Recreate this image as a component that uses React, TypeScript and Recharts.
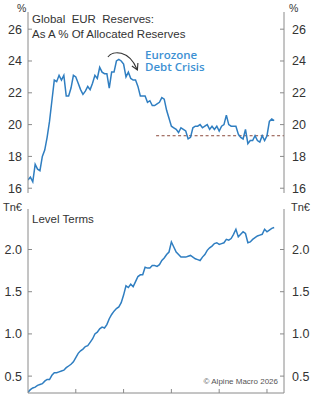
import React from 'react'
import { LineChart, Line, XAxis, YAxis, ReferenceLine, ReferenceDot } from 'recharts'

// quarterly observations, 1999Q1 onwards
const startYear = 1999

// EUR share of allocated reserves, %
const shareValues = [
  16.52, 16.7, 16.4, 17.5, 17.2, 17.1, 18.0, 18.4, 19.2, 20.2,
  21.5, 22.8, 22.7, 23.1, 22.8, 23.1, 21.8, 21.8, 22.3, 23.1,
  23.0, 22.6, 22.2, 21.9, 22.1, 22.4, 22.2, 22.6, 23.1, 22.9,
  23.6, 23.3, 23.2, 23.2, 22.3, 23.3, 23.3, 24.0, 24.1, 24.0,
  23.8, 23.0, 23.3, 22.9, 22.8, 22.8, 22.4, 21.8, 21.8, 21.8,
  21.4, 21.5, 21.2, 21.2, 21.3, 21.4, 21.7, 21.6, 20.9, 20.4,
  19.9, 19.8, 19.7, 19.5, 19.8, 19.7, 19.6, 19.1, 19.2, 19.8,
  19.9, 19.9, 20.0, 19.8, 19.9, 20.0, 19.7, 19.9, 19.7, 19.9,
  19.6, 19.9, 20.0, 20.6, 20.0, 19.9, 19.9, 19.9, 19.4, 19.2,
  19.1, 19.7, 18.8, 19.0, 19.0, 19.3, 19.0, 18.9, 19.3, 19.0,
  19.3, 20.2, 20.35, 20.25,
]

// EUR reserves in level terms, Tn EUR
const levelValues = [
  0.31, 0.34, 0.36, 0.37, 0.39, 0.40, 0.41, 0.44, 0.46, 0.46,
  0.51, 0.54, 0.54, 0.55, 0.56, 0.57, 0.60, 0.62, 0.64, 0.67,
  0.72, 0.77, 0.80, 0.82, 0.85, 0.86, 0.90, 0.94, 1.00, 1.02,
  1.06, 1.08, 1.07, 1.11, 1.18, 1.23, 1.27, 1.30, 1.32, 1.37,
  1.46, 1.57, 1.55, 1.59, 1.56, 1.62, 1.68, 1.70, 1.70, 1.79,
  1.78, 1.78, 1.81, 1.81, 1.80, 1.82, 1.87, 1.90, 1.94, 1.97,
  2.09, 2.03, 1.97, 1.94, 1.91, 1.91, 1.91, 1.92, 1.93, 1.91,
  1.89, 1.88, 1.87, 1.91, 1.94, 1.99, 2.02, 2.04, 2.07, 2.08,
  2.06, 2.07, 2.08, 2.12, 2.11, 2.13, 2.18, 2.24, 2.15, 2.18,
  2.21, 2.19, 2.08, 2.09, 2.12, 2.14, 2.16, 2.17, 2.18, 2.24,
  2.21, 2.23, 2.25, 2.26,
]

const shareTicks = [16, 18, 20, 22, 24, 26]
const levelTicks = [0.5, 1.0, 1.5, 2.0]
const yearTicks = [2004, 2009, 2014, 2019, 2024]
const xDomain: [number, number] = [1999, 2025.78]
const shareDomain: [number, number] = [15.7, 27.08]
const levelDomain: [number, number] = [0.3, 2.48]

// post-crisis average and arrow anchor
const crisisAvg = 19.3
const crisisAvgFrom = 2012.4
const arrowPoint = { x: 2008.3, y: 24.5 }

const shareData = shareValues.map((v, i) => ({ t: startYear + i / 4, v }))
const levelData = levelValues.map((v, i) => ({ t: startYear + i / 4, v }))

const FONT = '"Liberation Sans", Arial, Helvetica, sans-serif'
const AXIS = '#8a8a8a'
const TEXT = '#333333'
const LINE = '#2f7ec1'
const NOTE_BLUE = '#3d91d3'

const makeYTick = (side: 'left' | 'right', digits: number) => (props: any) => {
  const { x, y, payload } = props
  const inward = side === 'left' ? 4 : -4
  return (
    <g>
      <line x1={x} x2={x + inward} y1={y} y2={y} stroke={AXIS} strokeWidth={1} />
      <text
        x={side === 'left' ? x - 6 : x + 8}
        y={y}
        dy={4.5}
        textAnchor={side === 'left' ? 'end' : 'start'}
        fontSize={12.5}
        fontFamily={FONT}
        fill={TEXT}
      >
        {Number(payload.value).toFixed(digits)}
      </text>
    </g>
  )
}

const XTick = (props: any) => {
  const { x, y } = props
  return <line x1={x} x2={x} y1={y} y2={y - 4} stroke={AXIS} strokeWidth={1} />
}

const CrisisArrow = (props: any) => {
  const { cx, cy } = props
  if (cx == null || cy == null) return null
  return (
    <g fill="none" stroke="#333" strokeWidth={1.1}>
      <path d={`M ${cx - 9} ${cy + 4} C ${cx - 4} ${cy - 3} ${cx + 12} ${cy - 3} ${cx + 20} ${cy + 16}`} />
      <path d={`M ${cx + 15} ${cy + 13} L ${cx + 20.5} ${cy + 17} L ${cx + 21} ${cy + 10}`} />
    </g>
  )
}

export default function App() {
  return (
    <div style={{ position: 'absolute', left: 0, top: 0, width: 324, height: 400, background: '#fff' }}>
      <div style={{ position: 'absolute', left: 0, top: 0 }}>
        <LineChart width={324} height={200} data={shareData} margin={{ top: 12, right: 0, bottom: 7, left: 0 }}>
          <XAxis dataKey="t" type="number" domain={xDomain} allowDataOverflow hide />
          <YAxis
            yAxisId="left"
            orientation="left"
            width={28}
            domain={shareDomain}
            allowDataOverflow
            ticks={shareTicks}
            interval={0}
            tickSize={0}
            tickMargin={0}
            tickLine={false}
            axisLine={{ stroke: AXIS }}
            tick={makeYTick('left', 0)}
          />
          <YAxis
            yAxisId="right"
            orientation="right"
            width={40}
            domain={shareDomain}
            allowDataOverflow
            ticks={shareTicks}
            interval={0}
            tickSize={0}
            tickMargin={0}
            tickLine={false}
            axisLine={{ stroke: AXIS }}
            tick={makeYTick('right', 0)}
          />
          <ReferenceLine
            yAxisId="left"
            segment={[{ x: crisisAvgFrom, y: crisisAvg }, { x: xDomain[1], y: crisisAvg }]}
            stroke="#8b4a3c"
            strokeDasharray="3 2.5"
            strokeWidth={1}
          />
          <Line
            yAxisId="left"
            type="linear"
            dataKey="v"
            stroke={LINE}
            strokeWidth={1.5}
            dot={false}
            isAnimationActive={false}
          />
          <ReferenceDot yAxisId="left" x={arrowPoint.x} y={arrowPoint.y} shape={<CrisisArrow />} />
        </LineChart>
      </div>
      <div style={{ position: 'absolute', left: 0, top: 200 }}>
        <LineChart width={324} height={200} data={levelData} margin={{ top: 9, right: 0, bottom: 0, left: 0 }}>
          <XAxis
            dataKey="t"
            type="number"
            domain={xDomain}
            allowDataOverflow
            ticks={yearTicks}
            interval={0}
            height={7}
            tickSize={0}
            tickMargin={0}
            tickLine={false}
            axisLine={{ stroke: AXIS }}
            tick={<XTick />}
          />
          <YAxis
            yAxisId="left"
            orientation="left"
            width={28}
            domain={levelDomain}
            allowDataOverflow
            ticks={levelTicks}
            interval={0}
            tickSize={0}
            tickMargin={0}
            tickLine={false}
            axisLine={{ stroke: AXIS }}
            tick={makeYTick('left', 1)}
          />
          <YAxis
            yAxisId="right"
            orientation="right"
            width={40}
            domain={levelDomain}
            allowDataOverflow
            ticks={levelTicks}
            interval={0}
            tickSize={0}
            tickMargin={0}
            tickLine={false}
            axisLine={{ stroke: AXIS }}
            tick={makeYTick('right', 1)}
          />
          <Line
            yAxisId="left"
            type="linear"
            dataKey="v"
            stroke={LINE}
            strokeWidth={1.5}
            dot={false}
            isAnimationActive={false}
          />
        </LineChart>
      </div>
      <svg
        width={324}
        height={400}
        style={{ position: 'absolute', left: 0, top: 0, pointerEvents: 'none' }}
        fontFamily={FONT}
      >
        <text x={17} y={12} fontSize={10.5} fill={TEXT}>%</text>
        <text x={289} y={12} fontSize={10.5} fill={TEXT}>%</text>
        <text x={3} y={211} fontSize={11} fill={TEXT}>Tn€</text>
        <text x={291} y={211} fontSize={11} fill={TEXT}>Tn€</text>
        <text x={32} y={23} fontSize={11.5} fill={TEXT} style={{ whiteSpace: 'pre' }}>Global  EUR  Reserves:</text>
        <text x={32} y={37.5} fontSize={11.5} fill={TEXT}>As A % Of Allocated Reserves</text>
        <text x={32} y={223} fontSize={11.5} fill={TEXT}>Level Terms</text>
        <text x={278} y={384} fontSize={8} fill="#555" textAnchor="end">© Alpine Macro 2026</text>
        <text x={145} y={58.5} fontSize={11.5} fontWeight={600} fill={NOTE_BLUE} fontFamily='"Open Sans", "Noto Sans", sans-serif'>Eurozone</text>
        <text x={145} y={71} fontSize={11.5} fontWeight={600} fill={NOTE_BLUE} fontFamily='"Open Sans", "Noto Sans", sans-serif'>Debt Crisis</text>
      </svg>
    </div>
  )
}
